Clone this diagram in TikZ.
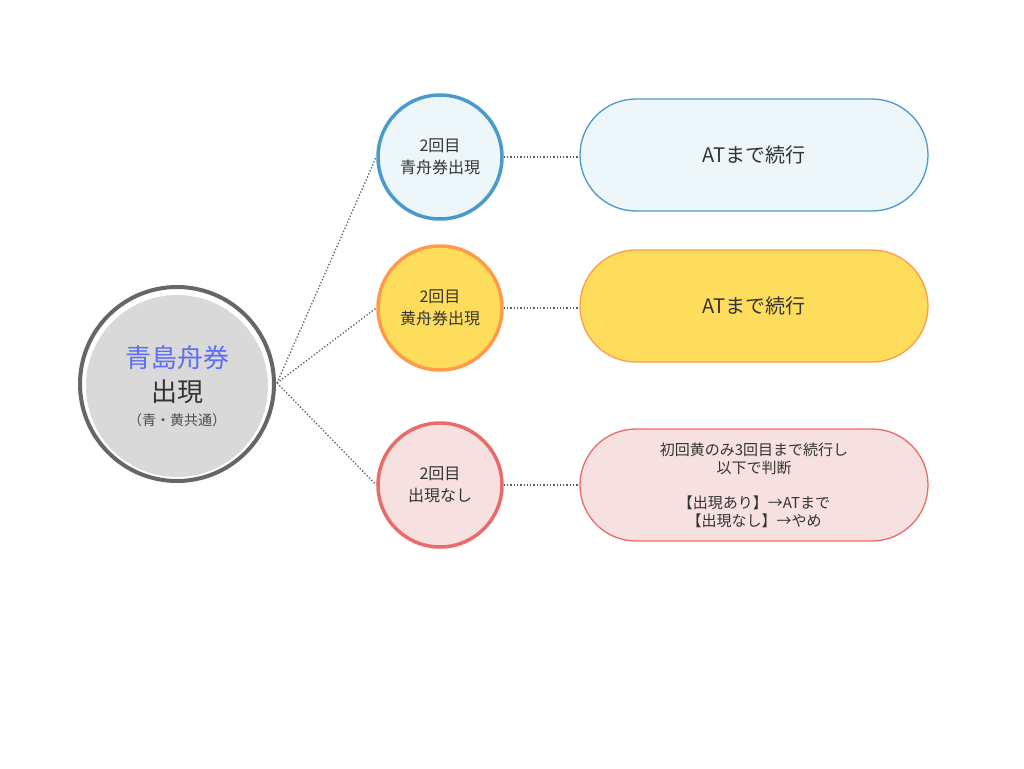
\documentclass[tikz,border=0pt]{standalone}
\usepackage{fontspec}
\setmainfont{Noto Sans CJK JP}
\begin{document}
\begin{tikzpicture}[x=1pt,y=-1pt,
  sc/.style={circle,minimum size=124pt,line width=3.5pt,align=center,font=\fontsize{16}{22}\selectfont,text=black!80,inner sep=0pt},
  pill/.style={rounded corners=56pt,minimum width=348pt,minimum height=112pt,line width=1.3pt,align=center,text=black!80,inner sep=0pt},
  dl/.style={dotted,line width=1.3pt,color=dcol}]
\useasboundingbox (0,0) rectangle (1024,768);
\definecolor{dcol}{HTML}{4E6070}
\definecolor{bS}{HTML}{4A9ACB}\definecolor{bF}{HTML}{EDF6F8}
\definecolor{yS}{HTML}{FF9A4A}\definecolor{yF}{HTML}{FFDD5C}
\definecolor{pS}{HTML}{EB6B6B}\definecolor{pF}{HTML}{F7E0E0}
\node[circle,minimum size=194pt,draw=black!60,line width=4pt,fill=white,inner sep=0pt] (big) at (177,384) {};
\node[circle,minimum size=182pt,fill=black!15,inner sep=0pt,align=center,font=\fontsize{26}{34}\selectfont] (bigin) at (177,386)
 {\textcolor[HTML]{5B6EF5}{青島舟券}\\\textcolor{black!80}{出現}\\[-10pt]\textcolor{black!70}{\fontsize{14}{16}\selectfont（青・黄共通）}};
\node[sc,draw=bS,fill=bF] (c1) at (440,157) {2回目\\青舟券出現};
\node[sc,draw=yS,fill=yF] (c2) at (440,308) {2回目\\黄舟券出現};
\node[sc,draw=pS,fill=pF] (c3) at (440,485) {2回目\\出現なし};
\node[pill,draw=bS,fill=bF,font=\fontsize{20}{24}\selectfont] (p1) at (754,155) {ATまで続行};
\node[pill,draw=yS,fill=yF,font=\fontsize{20}{24}\selectfont] (p2) at (754,306) {ATまで続行};
\node[pill,draw=pS,fill=pF,font=\fontsize{15}{18}\selectfont] (p3) at (754,485) {初回黄のみ3回目まで続行し\\以下で判断\\[17pt]【出現あり】→ATまで\\【出現なし】→やめ};
\coordinate (o) at (277,383);
\draw[dl] (o) -- (c1.west);
\draw[dl] (o) -- (c2.west);
\draw[dl] (o) -- (c3.west);
\draw[dl] (c1) -- (p1.west|-c1);
\draw[dl] (c2) -- (p2.west|-c2);
\draw[dl] (c3) -- (p3);
\end{tikzpicture}
\end{document}
